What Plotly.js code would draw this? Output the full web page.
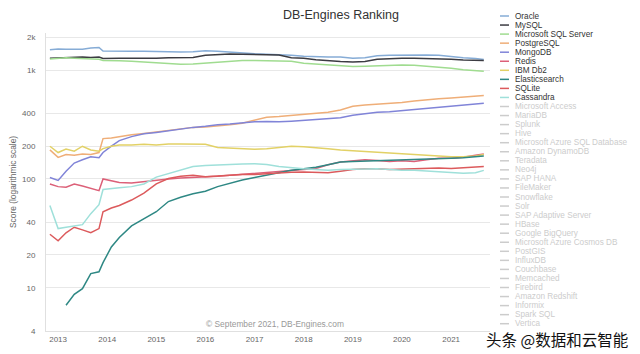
<!DOCTYPE html>
<html><head><meta charset="utf-8">
<script src="https://cdn.plot.ly/plotly-3.0.1.min.js"></script>
<style>html,body{margin:0;padding:0;background:#fff}#chart{width:640px;height:354px}</style>
</head><body><div id="chart"></div>
<script>
const dates = ['2012-11-01','2013-01-01','2013-03-01','2013-05-01','2013-07-01','2013-09-01','2013-11-01','2013-12-01',
 '2014-02-01','2014-04-01','2014-07-01','2014-10-01','2015-01-01','2015-04-01','2015-07-01','2015-10-01',
 '2016-01-01','2016-04-01','2016-07-01','2016-10-01','2017-01-01','2017-04-01','2017-07-01','2017-10-01',
 '2018-01-01','2018-04-01','2018-07-01','2018-10-01','2019-01-01','2019-04-01','2019-07-01','2019-10-01',
 '2020-01-01','2020-04-01','2020-07-01','2020-10-01','2021-01-01','2021-04-01','2021-07-01','2021-09-01'];

const oracle = [1540,1570,1560,1555,1560,1600,1620,1500,1505,1500,1495,1490,1480,1475,1470,1480,
 1510,1490,1460,1440,1413,1400,1390,1370,1345,1330,1320,1325,1290,1300,1360,1370,1380,1370,1380,1370,1330,1300,1280,1255];
const mysql = [1290,1300,1320,1330,1320,1310,1320,1280,1290,1285,1285,1280,1290,1300,1300,1310,
 1370,1400,1410,1405,1400,1390,1380,1300,1290,1250,1220,1200,1190,1200,1260,1280,1290,1290,1280,1280,1260,1240,1230,1225];
const mssql = [1270,1290,1300,1290,1280,1280,1260,1230,1230,1220,1210,1190,1170,1150,1135,1140,
 1160,1190,1215,1225,1225,1220,1225,1210,1160,1140,1110,1095,1080,1085,1100,1110,1115,1110,1090,1070,1040,1010,990,980];
const postgresql = [185,158,168,165,170,168,175,235,238,245,255,262,270,280,290,298,
 300,305,315,325,345,370,375,385,392,400,410,430,465,478,485,495,505,520,535,545,555,565,575,585];
const mongodb = [103,97,118,140,150,160,157,175,200,225,245,260,268,278,290,298,
 305,315,320,328,335,337,335,340,345,350,355,365,385,400,410,415,425,435,445,455,465,480,490,497];
const redis = [90,85,84,90,86,82,78,100,97,93,92,95,98,100,102,103,
 104,106,108,110,112,114,116,118,122,125,135,143,147,150,148,145,147,145,150,155,155,158,165,170];
const db2 = [200,175,188,180,200,185,180,190,200,205,205,208,205,210,210,210,
 208,195,192,190,188,190,195,200,198,195,190,185,182,180,178,175,171,168,165,162,160,160,163,168];
const elasticsearch = [null,null,6.9,8.7,9.8,13.5,14,17,23.7,29,37,43,50,62,68,73,
 77,85,92,98,103,108,115,120,124,128,135,143,145,146,148,150,151,150,152,153,155,157,160,163];
const sqlite = [31,27,32,36,34,32,35,50,54,57,64,74,90,101,106,108,
 105,107,108,110,110,112,114,115,116,115,114,118,122,124,124,122,123,124,124,126,125,127,128,130];
const cassandra = [57,35,36,37,38,48,58,80,82,83,85,90,104,112,120,130,
 133,135,137,137,138,136,130,126,124,122,120,122,123,124,124,122,120,120,118,116,115,113,114,120];

const seriesNames = ['Oracle','MySQL','Microsoft SQL Server','PostgreSQL','MongoDB','Redis','IBM Db2','Elasticsearch','SQLite','Cassandra'];
const seriesValues = [oracle, mysql, mssql, postgresql, mongodb, redis, db2, elasticsearch, sqlite, cassandra];
const seriesColors = ['#86acd6','#3c3c42','#a0dc90','#efae78','#8084d8','#dc6078','#e2d166','#2e8884','#dc5a5c','#9fe0da'];
const hiddenNames = ['Microsoft Access','MariaDB','Splunk','Hive','Microsoft Azure SQL Database','Amazon DynamoDB','Teradata',
 'Neo4j','SAP HANA','FileMaker','Snowflake','Solr','SAP Adaptive Server','HBase','Google BigQuery','Microsoft Azure Cosmos DB',
 'PostGIS','InfluxDB','Couchbase','Memcached','Firebird','Amazon Redshift','Informix','Spark SQL','Vertica'];
const yTickVals = [4,10,20,40,100,200,400,1000,2000];
const yTickText = ['4','10','20','40','100','200','400','1k','2k'];
const xTickYears = ['2013','2014','2015','2016','2017','2018','2019','2020','2021'];

const W = 640, H = 354, L = 46, R = 490, T = 33, B = 331;
const xp = px => (px - L) / (R - L);
const yp = py => (B - py) / (B - T);
const FONT = 'Liberation Sans, Arial, sans-serif';

const traces = seriesNames.map((n, i) => ({
  type: 'scatter', mode: 'lines', name: n, x: dates, y: seriesValues[i],
  line: {color: seriesColors[i], width: 1.5}, connectgaps: false
}));

const shapes = [];
const annotations = [];
const allNames = seriesNames.concat(hiddenNames);
allNames.forEach((n, i) => {
  const y = 16 + 9.05 * i;
  const vis = i < seriesNames.length;
  shapes.push({type: 'line', xref: 'paper', yref: 'paper', x0: xp(500), x1: xp(509), y0: yp(y), y1: yp(y),
    line: {color: vis ? seriesColors[i] : '#cccccc', width: 1.5}});
  annotations.push({xref: 'paper', yref: 'paper', x: xp(513), y: yp(y), xanchor: 'left', yanchor: 'middle',
    text: n, showarrow: false, font: {family: FONT, size: 8.2, color: vis ? '#333333' : '#cccccc'}});
});
annotations.push({xref: 'paper', yref: 'paper', x: xp(13), y: yp(182), xanchor: 'center', yanchor: 'middle',
  text: 'Score (logarithmic scale)', textangle: -90, showarrow: false, font: {family: FONT, size: 8.4, color: '#666666'}});
annotations.push({xref: 'paper', yref: 'paper', x: xp(346), y: yp(324), xanchor: 'right', yanchor: 'middle',
  text: '© September 2021, DB-Engines.com', showarrow: false, font: {family: FONT, size: 8.4, color: '#999999'}});
annotations.push({xref: 'paper', yref: 'paper', x: xp(484), y: yp(339), xanchor: 'left', yanchor: 'middle',
  text: '头条 @数据和云智能', showarrow: false,
  font: {family: 'Noto Sans CJK SC, sans-serif', size: 15.5, color: '#111111', shadow: '1px 1px 1px #fff, -1px -1px 1px #fff'}});

const layout = {
  width: W, height: H, margin: {l: L, r: W - R, t: T, b: H - B, pad: 0},
  paper_bgcolor: '#ffffff', plot_bgcolor: '#ffffff', showlegend: false,
  title: {text: 'DB-Engines Ranking', x: 341 / W, xref: 'container', xanchor: 'center', y: 1 - 15 / H, yref: 'container', yanchor: 'middle',
    font: {family: FONT, size: 12.5, color: '#333333'}},
  xaxis: {type: 'date', range: ['2012-10-03', '2021-10-17'],
    tickvals: xTickYears.map(y => y + '-01-01'), ticktext: xTickYears,
    showgrid: false, zeroline: false, showline: true, linecolor: '#e0e0e0', linewidth: 1,
    ticks: '', tickfont: {family: FONT, size: 8, color: '#666666'}},
  yaxis: {type: 'log', range: [Math.log10(4), 3.342], tickvals: yTickVals, ticktext: yTickText,
    showgrid: true, gridcolor: '#e8e8e8', gridwidth: 1, zeroline: false, showline: true, linecolor: '#e0e0e0',
    ticks: '', ticklabelstandoff: 8, tickfont: {family: FONT, size: 8, color: '#666666'}},
  shapes: shapes, annotations: annotations
};

Plotly.newPlot('chart', traces, layout, {staticPlot: true, displayModeBar: false});
</script></body></html>
